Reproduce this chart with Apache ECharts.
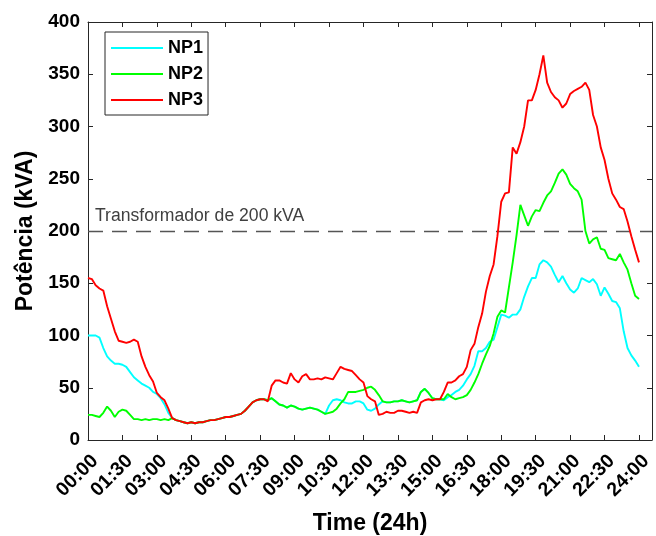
<!DOCTYPE html>
<html>
<head>
<meta charset="utf-8">
<script src="https://cdn.jsdelivr.net/npm/echarts@6/dist/echarts.min.js"></script>
<style>
html,body{margin:0;padding:0;background:#fff;}
#chart{width:656px;height:536px;}
</style>
</head>
<body>
<div id="chart"></div>
<script>
// Sampling step of the series (minutes between consecutive samples, starting at 00:00)
const stepMinutes = 10;

// NP1 (cyan) – kVA, one value every 10 minutes from 00:00 to 24:00
const np1 = [
  100,100,100,98,88,80,76,73,73,72,70,65,60,57,54,52,50,46,44,40,34,26,21,
  19,18,17,16,17,16,17,17,18,19,19,20,21,22,22,23,24,25,28,32,36,38,39,39,
  38,40,37,34,33,31,33,32,30,29,30,31,30,29,27,25,
  33,38,39,38,36,35,35,37,37,35,29,28,30,34,
  37,36,36,37,37,38,37,36,37,38,46,49,45,40,39,39,
  38,41,43,46,48,52,58,63,71,85,85,88,94,96,108,120,119,117,120,120,125,137,147,155,155,168,172,170,166,158,151,157,150,144,141,145,155,153,151,154,149,138,146,140,133,132,126,104,88,81,76,70
];

// NP2 (green)
const np2 = [
  24,24,23,22,26,32,28,22,27,29,28,24,20,20,19,20,19,20,20,19,20,19,21,
  19,18,17,16,17,16,17,17,18,19,19,20,21,22,22,23,24,25,28,32,36,38,39,39,
  38,40,37,34,33,31,33,32,30,29,30,31,30,29,27,25,26,27,30,35,39,46,46,46,47,48,50,51,48,43,
  37,36,36,37,37,38,37,36,37,38,46,49,45,40,39,39,
  39,44,41,39,40,41,43,48,55,63,73,82,90,102,118,124,122,146,170,196,225,215,205,214,220,219,227,234,238,246,255,259,254,245,241,238,230,200,188,192,194,183,182,174,173,172,178,170,163,150,138,135
];

// NP3 (red)
const np3 = [
  155,154,148,145,143,128,116,104,95,94,93,94,96,94,80,70,62,56,45,41,38,30,21,
  19,18,17,16,17,16,17,17,18,19,19,20,21,22,22,23,24,25,28,32,36,38,39,39,
  37,52,57,57,55,54,64,58,55,61,63,58,58,59,58,60,59,58,64,70,68,67,66,62,58,55,42,39,37,
  24,25,27,26,26,28,28,27,26,27,26,36,38,39,38,39,39,
  46,55,55,57,61,63,70,86,92,108,121,142,157,168,195,228,236,237,280,274,285,300,325,325,335,350,368,342,333,328,325,318,322,331,334,336,338,342,335,311,300,280,268,250,236,230,223,221,209,195,182,170
];

const seriesNames = ['NP1', 'NP2', 'NP3'];
const seriesColors = ['#00FFFF', '#00FF00', '#FF0000'];
const xTickLabels = ['00:00','01:30','03:00','04:30','06:00','07:30','09:00','10:30','12:00',
                     '13:30','15:00','16:30','18:00','19:30','21:00','22:30','24:00'];
const xTickMinutes = 90;
const transformerLimit = 200;
const transformerLabel = 'Transformador de 200 kVA';
const yTickValues = [0, 50, 100, 150, 200, 250, 300, 350, 400];

const FONT = '"Liberation Sans", Arial, Helvetica, sans-serif';
const AX = '#262626';

function toPairs(arr) { return arr.map((v, i) => [i * stepMinutes, v]); }

const chart = echarts.init(document.getElementById('chart'), null, {renderer: 'canvas'});

const xMax = 1474;
const commonX = {
  type: 'value', min: 0, max: xMax, interval: xTickMinutes,
  axisLine: {show: true, onZero: false, lineStyle: {color: AX, width: 1}},
  axisTick: {show: true, inside: true, length: 5, lineStyle: {color: AX, width: 1}},
  splitLine: {show: false}
};
const commonY = {
  type: 'value', min: yTickValues[0], max: yTickValues[yTickValues.length - 1], interval: 50,
  axisLine: {show: true, onZero: false, lineStyle: {color: AX, width: 1}},
  axisTick: {show: true, inside: true, length: 5, lineStyle: {color: AX, width: 1}},
  splitLine: {show: false}
};

const data = [np1, np2, np3];
const series = data.map((arr, k) => ({
  name: seriesNames[k],
  type: 'line',
  data: toPairs(arr),
  showSymbol: false,
  symbol: 'none',
  smooth: false,
  clip: true,
  z: 3 + k,
  lineStyle: {color: seriesColors[k], width: 1.9},
  itemStyle: {color: seriesColors[k]}
}));
series[0].markLine = {
  silent: true,
  symbol: ['none', 'none'],
  animation: false,
  data: [{yAxis: transformerLimit}],
  lineStyle: {type: [15, 9], color: '#555555', width: 1.3},
  label: {
    show: true, position: 'insideStartTop', formatter: transformerLabel,
    fontSize: 17.6, color: '#404040', fontFamily: FONT, distance: [7, 6]
  }
};

chart.setOption({
  animation: false,
  backgroundColor: '#ffffff',
  textStyle: {fontFamily: FONT},
  grid: {left: 88, right: 4, top: 22, bottom: 96, containLabel: false, outerBoundsMode: 'none'},
  xAxis: [
    Object.assign({}, commonX, {
      position: 'bottom',
      axisLabel: {
        rotate: 45, margin: 11, fontSize: 19.5, fontWeight: 'bold', color: '#000', fontFamily: FONT,
        verticalAlign: 'top',
        formatter: v => (v % xTickMinutes === 0 && v / xTickMinutes < xTickLabels.length) ? xTickLabels[v / xTickMinutes] : ''
      },
      name: 'Time (24h)', nameLocation: 'middle', nameGap: 72,
      nameTextStyle: {fontSize: 23, fontWeight: 'bold', color: '#000', fontFamily: FONT}
    }),
    Object.assign({}, commonX, {position: 'top', axisLabel: {show: false}})
  ],
  yAxis: [
    Object.assign({}, commonY, {
      position: 'left',
      axisLabel: {margin: 8, fontSize: 19, fontWeight: 'bold', color: '#000', fontFamily: FONT},
      name: 'Potência (kVA)', nameLocation: 'middle', nameGap: 45,
      nameTextStyle: {fontSize: 23, fontWeight: 'bold', color: '#000', fontFamily: FONT}
    }),
    Object.assign({}, commonY, {position: 'right', axisLabel: {show: false}})
  ],
  legend: {
    left: 105, top: 32, orient: 'vertical',
    data: seriesNames.map((n, k) => ({name: n, icon: 'rect', itemStyle: {color: seriesColors[k]}})),
    itemWidth: 52, itemHeight: 2, itemGap: 8,
    padding: [7, 5, 6, 6],
    borderColor: AX, borderWidth: 1, backgroundColor: '#fff',
    textStyle: {fontSize: 18, fontWeight: 'bold', color: '#000', fontFamily: FONT, lineHeight: 18}
  },
  series: series
});
</script>
</body>
</html>
